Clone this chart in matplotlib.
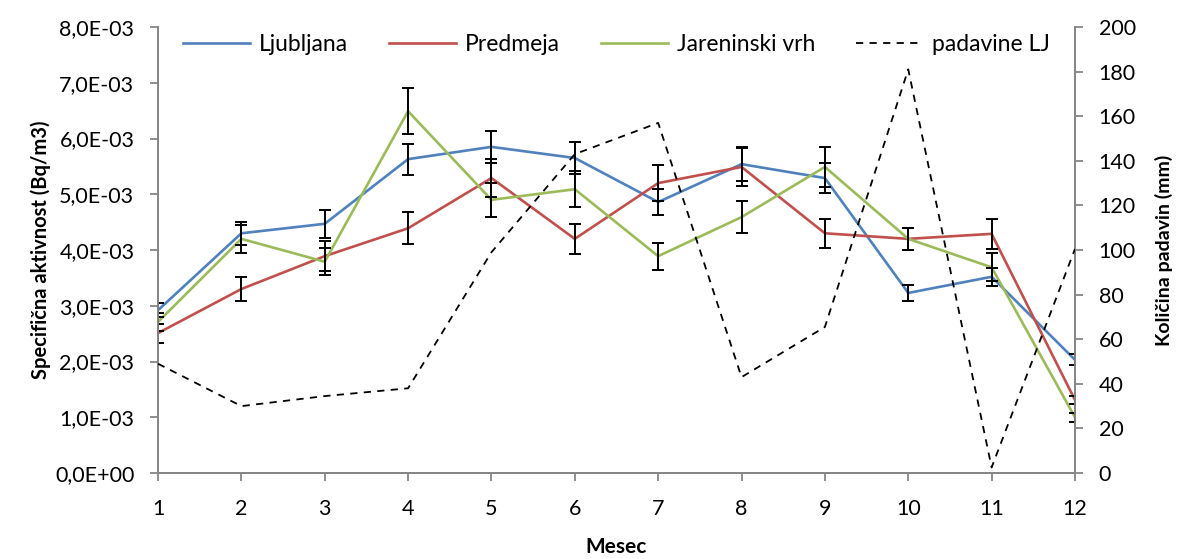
import matplotlib.pyplot as plt
from matplotlib.ticker import FuncFormatter

plt.rcParams['font.family'] = ['Lato', 'DejaVu Sans']

meseci = [1, 2, 3, 4, 5, 6, 7, 8, 9, 10, 11, 12]

# specificna aktivnost (x 1E-3 Bq/m3)
ljubljana = [2.92, 4.30, 4.47, 5.63, 5.85, 5.65, 4.86, 5.54, 5.29, 3.23, 3.52, 2.03]
predmeja = [2.51, 3.30, 3.89, 4.39, 5.29, 4.20, 5.20, 5.49, 4.30, 4.20, 4.29, 1.31]
jareninski = [2.71, 4.20, 3.79, 6.49, 4.90, 5.09, 3.89, 4.59, 5.49, 4.20, 3.69, 1.00]

napaka_lj = [0.13, 0.21, 0.25, 0.28, 0.29, 0.28, 0.24, 0.30, 0.27, 0.15, 0.16, 0.10]
napaka_pr = [0.17, 0.21, 0.27, 0.29, 0.34, 0.27, 0.32, 0.34, 0.26, 0.20, 0.27, 0.07]
napaka_ja = [0.16, 0.25, 0.24, 0.41, 0.30, 0.32, 0.24, 0.29, 0.36, 0.20, 0.25, 0.08]

# padavine Ljubljana (mm)
padavine = [49, 30, 34.5, 38, 99, 143, 157, 43, 65.5, 181, 2.5, 100.5]

siva = "#868686"

fig = plt.figure(figsize=(11.8, 5.59), dpi=100)
ax = fig.add_axes([0.1339, 0.1538, 0.7771, 0.7979])
ax2 = ax.twinx()

def serija(y, err, barva, ime):
    yv = [v * 1e-3 for v in y]
    ev = [v * 1e-3 for v in err]
    ax.plot(meseci, yv, color=barva, lw=1.9, label=ime, zorder=3)
    ax.errorbar(meseci, yv, yerr=ev, fmt="none", ecolor="black",
                elinewidth=1.4, capsize=4, capthick=1.4, zorder=4)

serija(ljubljana, napaka_lj, "#4F81BD", "Ljubljana")
serija(predmeja, napaka_pr, "#C0504D", "Predmeja")
serija(jareninski, napaka_ja, "#9BBB59", "Jareninski vrh")

ax2.plot(meseci, padavine, color="black", lw=1.3, dashes=(4, 3.5),
         label="padavine LJ", zorder=5)

ax.set_xlim(1, 12)
ax.set_ylim(0, 8e-3)
ax2.set_ylim(0, 200)
ax.set_xticks(meseci)
ax.set_yticks([i * 1e-3 for i in range(9)])
ax2.set_yticks(range(0, 201, 20))
ax.yaxis.set_major_formatter(FuncFormatter(
    lambda v, p: ("%.1E" % v).replace(".", ",")))

for a in (ax, ax2):
    a.spines["top"].set_visible(False)
    for s in ("left", "right", "bottom"):
        a.spines[s].set_color(siva)
        a.spines[s].set_linewidth(1.3)
    a.tick_params(colors=siva, labelcolor="black", labelsize=15.5,
                  length=6, width=1.3, direction="out")

ax.tick_params(axis="x", pad=13)
ax.tick_params(axis="y", pad=11)
ax2.tick_params(axis="y", pad=11)
ax.set_xlabel("Mesec", fontsize=15, fontweight="bold", labelpad=13)
ax.set_ylabel("Specifična aktivnost (Bq/m3)", fontsize=14.5,
              fontweight="bold", labelpad=3)
ax2.set_ylabel("Količina padavin (mm)", fontsize=14, fontweight="bold",
               labelpad=14)

h1, l1 = ax.get_legend_handles_labels()
h2, l2 = ax2.get_legend_handles_labels()
ax.legend(h1 + h2, l1 + l2, loc="upper center", bbox_to_anchor=(0.5, 1.03),
          ncol=4, frameon=False, fontsize=16.5, handlelength=2.9,
          columnspacing=1.8, handletextpad=0.4)

fig.savefig("out.png", dpi=100)
